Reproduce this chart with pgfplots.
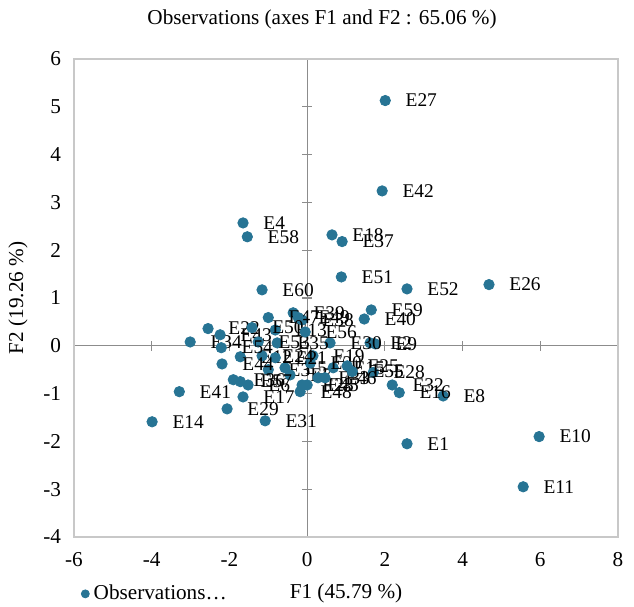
\documentclass[border=0pt]{standalone}
\usepackage{fontspec}
\setmainfont{Liberation Serif}
\usepackage{pgfplots}
\usepackage{pgfplotstable}
\pgfplotsset{compat=1.18}

\definecolor{obs}{RGB}{39,116,148}
\definecolor{frame}{RGB}{200,200,200}
\definecolor{zeroline}{RGB}{140,140,140}

% F1 / F2 coordinates of the observations
\pgfplotstableread{
x y label
2.57 -2.05 E1
1.62 0.06 E2
-1.00 -0.50 E3
-1.65 2.57 E4
-0.57 -0.46 E5
-1.52 -0.82 E6
-0.44 -0.61 E7
3.50 -1.05 E8
1.75 0.04 E9
5.97 -1.90 E10
5.56 -2.95 E11
-1.72 -0.23 E12
-0.82 0.33 E13
-3.99 -1.59 E14
0.67 -0.46 E15
2.37 -0.98 E16
-1.65 -1.07 E17
0.64 2.32 E18
0.15 -0.21 E19
0.08 -0.36 E20
-0.82 -0.25 E21
-2.55 0.36 E22
-0.13 -0.82 E23
-1.16 -0.21 E24
1.03 -0.42 E25
4.68 1.28 E26
2.01 5.13 E27
1.70 -0.56 E28
-2.06 -1.32 E29
0.59 0.06 E30
-1.08 -1.57 E31
2.19 -0.82 E32
0.28 -0.67 E33
-3.01 0.08 E34
-0.77 0.06 E35
-1.90 -0.71 E36
0.90 2.18 E37
-0.13 0.54 E38
-0.36 0.69 E39
1.47 0.56 E40
-3.29 -0.96 E41
1.93 3.24 E42
-2.24 0.23 E43
-2.19 -0.38 E44
0.00 -0.82 E45
0.46 -0.67 E46
-1.00 0.59 E47
-0.18 -0.96 E48
-0.23 0.59 E49
-1.42 0.38 E50
0.88 1.44 E51
2.57 1.19 E52
-1.26 0.08 E53
-2.21 -0.04 E54
1.16 -0.54 E55
-0.05 0.29 E56
-1.72 -0.75 E57
-1.54 2.28 E58
1.65 0.75 E59
-1.16 1.17 E60
}\obsdata

\begin{document}
\begin{tikzpicture}
% zero lines with crossing ticks
\begin{axis}[
    scale only axis, width=272pt, height=239pt,
    xmin=-6, xmax=8, ymin=-4, ymax=6,
    axis lines=middle,
    axis line style={-, draw=zeroline, line width=0.6pt},
    xtick={-6,-4,...,8}, ytick={-4,-3,...,6},
    xticklabels={}, yticklabels={},
    tick align=center, major tick length=5pt,
    tick style={draw=zeroline, line width=0.6pt},
]
\end{axis}
% frame, tick labels, data
\begin{axis}[
    name=main,
    scale only axis, width=272pt, height=239pt,
    xmin=-6, xmax=8, ymin=-4, ymax=6,
    axis line style={draw=frame, line width=0.6pt},
    xtick={-6,-4,...,8}, ytick={-4,-3,...,6},
    major tick length=0pt,
    /pgf/number format/assume math mode=true,
    ticklabel style={font=\fontsize{10.6}{12}\selectfont},
    xticklabel style={yshift=-4pt},
    yticklabel style={xshift=-3pt},
    title={Observations (axes F1 and F2 : 65.06 \%)},
    title style={at={(axis description cs:0.456,1.058)}, anchor=center,
                 font=\fontsize{10.6}{12}\selectfont},
    xlabel={F1 (45.79 \%)},
    xlabel style={at={(axis description cs:0.5,-0.119)}, anchor=center,
                  font=\fontsize{10.6}{12}\selectfont},
    ylabel={F2 (19.26 \%)},
    ylabel style={at={(axis description cs:-0.103,0.5)}, anchor=center,
                  font=\fontsize{10.6}{12}\selectfont},
    legend style={draw=none, fill=none, at={(axis description cs:0.012,-0.119)},
                  anchor=west, font=\fontsize{10.6}{12}\selectfont,
                  inner sep=0pt},
    legend cell align=left,
    legend image code/.code={\fill[obs] (0.15cm,0pt) circle (2pt);},
    clip=false,
]
\addplot[only marks, mark=*, mark size=2.6pt, color=obs,
    nodes near coords, point meta=explicit symbolic,
    every node near coord/.append style={anchor=west, inner sep=0pt,
        xshift=10pt, yshift=0pt, text=black,
        font=\fontsize{9.7}{11}\selectfont}]
    table[x=x, y=y, meta=label] {\obsdata};
\addlegendentry{Observations…}
\end{axis}
\pgfresetboundingbox
\path ([shift={(-37pt,-35pt)}]main.south west) rectangle ([shift={(8pt,29.5pt)}]main.north east);
\end{tikzpicture}
\end{document}
